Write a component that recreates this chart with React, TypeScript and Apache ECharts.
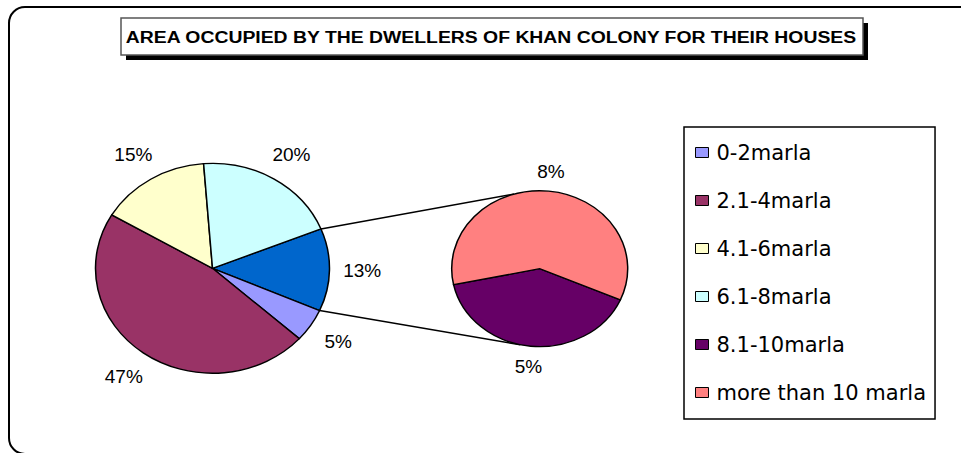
import React, { useEffect, useRef } from "react";
import * as echarts from "echarts";

// ---- data ----
const TITLE = "AREA OCCUPIED BY THE DWELLERS OF KHAN COLONY FOR THEIR HOUSES";
const mainCategories = ["0-2marla", "2.1-4marla", "4.1-6marla", "6.1-8marla"];
const mainValues = [5.1, 46.8, 15.3, 20.1];
const splitCategories = ["8.1-10marla", "more than 10 marla"];
const splitValues = [5.1, 7.6];
const OTHER_NAME = "Other";

// ---- styling / layout ----
const mainColors = ["#9999FF", "#993366", "#FFFFCC", "#CCFFFF"];
const splitColors = ["#660066", "#FF8080"];
const otherColor = "#0066CC";
const MAIN = { cx: 212.5, cy: 268.3, rx: 117, ry: 105, startDeg: -22, labelK: 1.28 };
const SEC = { cx: 539.7, cy: 268.7, rx: 88, ry: 78, startDeg: 23.6, labelK: 1.255 };
const SEC_CONNECT_TOP_DEG = -107;
const SEC_CONNECT_BOTTOM_DEG = 102.7;
const LABEL_FONT = '"Liberation Sans", Arial, sans-serif';
const DEG = Math.PI / 180;

const sum = (a: number[]) => a.reduce((s, v) => s + v, 0);

function angleRanges(vals: number[], startDeg: number): [number, number][] {
  const total = sum(vals);
  let a = startDeg * DEG;
  return vals.map((v) => {
    const s = a;
    a += (v / total) * Math.PI * 2;
    return [s, a];
  });
}

function sliceSeries(name: string, value: number, color: string, geom: typeof MAIN, range: [number, number]) {
  return {
    type: "custom",
    name,
    coordinateSystem: "none",
    data: [value],
    itemStyle: { color, borderColor: "#000", borderWidth: 1 },
    silent: true,
    renderItem: (_params: any, api: any) => {
      const v = api.value(0);
      const [s, e] = range;
      const mid = (s + e) / 2;
      return {
        type: "group",
        children: [
          {
            type: "sector",
            x: geom.cx,
            y: geom.cy,
            scaleY: geom.ry / geom.rx,
            shape: { cx: 0, cy: 0, r: geom.rx, r0: 0, startAngle: s, endAngle: e, clockwise: true },
            style: { fill: color, stroke: "#000", lineWidth: 1.5, strokeNoScale: true },
          },
          {
            type: "text",
            x: geom.cx + geom.rx * geom.labelK * Math.cos(mid),
            y: geom.cy + geom.ry * geom.labelK * Math.sin(mid),
            style: {
              text: Math.round(v) + "%",
              fill: "#000",
              fontSize: 19,
              fontFamily: LABEL_FONT,
              align: "center",
              verticalAlign: "middle",
              textAlign: "center",
              textVerticalAlign: "middle",
            },
          },
        ],
      };
    },
  };
}

export default function App() {
  const ref = useRef<HTMLDivElement>(null);

  useEffect(() => {
    if (!ref.current) return;
    const chart = echarts.init(ref.current, undefined, { renderer: "svg" });

    const otherTotal = sum(splitValues);
    const mainRanges = angleRanges([otherTotal, ...mainValues], MAIN.startDeg);
    const secRanges = angleRanges(splitValues, SEC.startDeg);

    const series: any[] = [];
    series.push(sliceSeries(OTHER_NAME, otherTotal, otherColor, MAIN, mainRanges[0]));
    mainCategories.forEach((c, i) => series.push(sliceSeries(c, mainValues[i], mainColors[i], MAIN, mainRanges[i + 1])));
    splitCategories.forEach((c, i) => series.push(sliceSeries(c, splitValues[i], splitColors[i], SEC, secRanges[i])));

    const pt = (g: typeof MAIN, a: number) => [g.cx + g.rx * Math.cos(a), g.cy + g.ry * Math.sin(a)];
    const mTop = pt(MAIN, mainRanges[0][0]);
    const mBot = pt(MAIN, mainRanges[0][1]);
    const sTop = pt(SEC, SEC_CONNECT_TOP_DEG * DEG);
    const sBot = pt(SEC, SEC_CONNECT_BOTTOM_DEG * DEG);

    chart.setOption({
      animation: false,
      backgroundColor: "#ffffff",
      legend: {
        data: [...mainCategories, ...splitCategories],
        orient: "vertical",
        left: 684,
        top: 127,
        padding: [15, 9, 16, 11],
        itemGap: 27,
        itemWidth: 13,
        itemHeight: 10,
        icon: "rect",
        itemStyle: { borderColor: "#000", borderWidth: 1 },
        borderColor: "#000",
        borderWidth: 1.5,
        backgroundColor: "#fff",
        selectedMode: false,
        textStyle: { fontFamily: '"DejaVu Sans", sans-serif', fontSize: 21, color: "#000", padding: [0, 0, 0, 3] },
      },
      graphic: [
        {
          type: "rect",
          z: 0,
          shape: { x: 9, y: 7, width: 975, height: 447, r: 16 },
          style: { fill: "none", stroke: "#000", lineWidth: 2 },
        },
        {
          type: "rect",
          z: 1,
          shape: { x: 126, y: 23, width: 742, height: 37 },
          style: { fill: "#000" },
        },
        {
          type: "rect",
          z: 2,
          shape: { x: 121, y: 18, width: 742, height: 37 },
          style: { fill: "#fff", stroke: "#555", lineWidth: 1.5 },
        },
        {
          type: "text",
          z: 3,
          x: 491,
          y: 37,
          scaleX: 1.14,
          style: {
            text: TITLE,
            fill: "#000",
            fontSize: 17,
            fontWeight: "bold",
            fontFamily: LABEL_FONT,
            align: "center",
            verticalAlign: "middle",
            textAlign: "center",
            textVerticalAlign: "middle",
          },
        },
        {
          type: "line",
          z: 1,
          shape: { x1: mTop[0], y1: mTop[1], x2: sTop[0], y2: sTop[1] },
          style: { stroke: "#000", lineWidth: 1.5 },
        },
        {
          type: "line",
          z: 1,
          shape: { x1: mBot[0], y1: mBot[1], x2: sBot[0], y2: sBot[1] },
          style: { stroke: "#000", lineWidth: 1.5 },
        },
      ],
      series,
    });

    return () => chart.dispose();
  }, []);

  return (
    <div
      ref={ref}
      style={{ position: "fixed", left: 0, top: 0, width: 961, height: 453, background: "#fff" }}
    />
  );
}
